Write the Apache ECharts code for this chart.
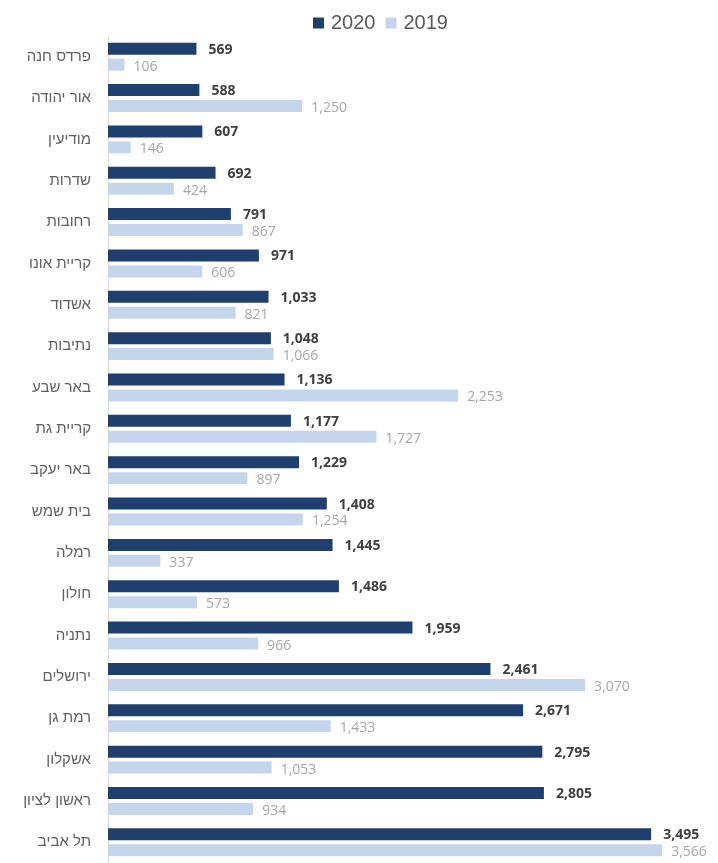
<!DOCTYPE html>
<html>
<head>
<meta charset="utf-8">
<script src="https://cdn.jsdelivr.net/npm/echarts@6/dist/echarts.min.js"></script>
<style>
html,body{margin:0;padding:0;background:#fff;}
#chart{width:718px;height:863px;}
</style>
</head>
<body>
<div id="chart"></div>
<script>
const categories = ['פרדס חנה','אור יהודה','מודיעין','שדרות','רחובות','קריית אונו','אשדוד','נתיבות','באר שבע','קריית גת','באר יעקב','בית שמש','רמלה','חולון','נתניה','ירושלים','רמת גן','אשקלון','ראשון לציון','תל אביב'];
const values2020 = [569,588,607,692,791,971,1033,1048,1136,1177,1229,1408,1445,1486,1959,2461,2671,2795,2805,3495];
const values2019 = [106,1250,146,424,867,606,821,1066,2253,1727,897,1254,337,573,966,3070,1433,1053,934,3566];
const seriesNames = ['2020','2019'];

const FONT = "'Open Sans','Liberation Sans','DejaVu Sans',sans-serif";
const HEB_FONT = "'Liberation Sans','DejaVu Sans',sans-serif";
const fmt = v => Number(v).toLocaleString('en-US');

const chart = echarts.init(document.getElementById('chart'), null, {renderer:'canvas'});
chart.setOption({
  animation:false,
  backgroundColor:'#ffffff',
  legend:{
    data:seriesNames,
    top:8,
    left:308,
    icon:'rect',
    itemWidth:11,
    itemHeight:11,
    itemGap:10,
    textStyle:{fontSize:20,color:'#595959',fontFamily:HEB_FONT,padding:[0,0,0,2]}
  },
  grid:{left:108,top:36,width:575,height:832,containLabel:false},
  xAxis:{
    type:'value',min:0,max:3700,
    show:false,
    splitLine:{show:false}
  },
  yAxis:{
    type:'category',
    data:categories,
    inverse:true,
    axisLine:{show:true,lineStyle:{color:'#d9d9d9',width:1}},
    axisTick:{show:false},
    axisLabel:{fontSize:15,color:'#606060',margin:17,fontFamily:HEB_FONT}
  },
  series:[
    {
      name:seriesNames[0],type:'bar',data:values2020,
      barWidth:12,barGap:'33%',
      itemStyle:{color:'#1f3f6e'},
      label:{show:true,position:'right',distance:12,offset:[0,1],
        formatter:p=>fmt(p.value),
        fontSize:14,fontWeight:'bold',color:'#404040',fontFamily:FONT}
    },
    {
      name:seriesNames[1],type:'bar',data:values2019,
      barWidth:12,
      itemStyle:{color:'#c5d6ec'},
      label:{show:true,position:'right',distance:9,offset:[0,2],
        formatter:p=>fmt(p.value),
        fontSize:14,color:'#a6a6a6',fontFamily:FONT}
    }
  ]
});
</script>
</body>
</html>
